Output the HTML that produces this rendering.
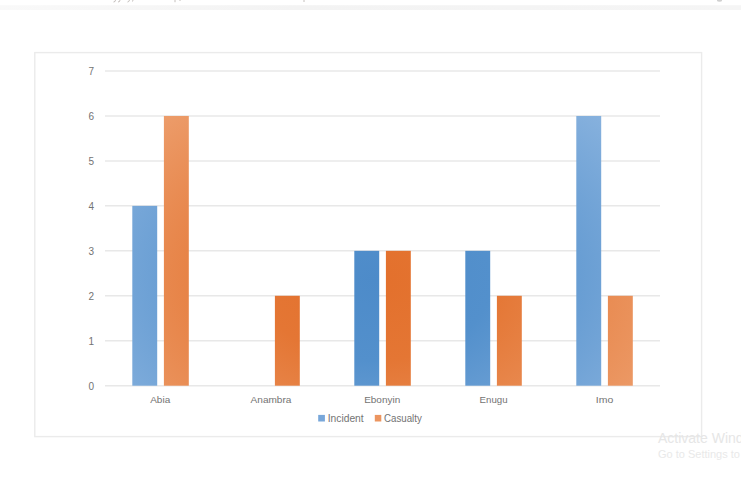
<!DOCTYPE html>
<html><head><meta charset="utf-8">
<style>
html,body{margin:0;padding:0;background:#fff;width:741px;height:486px;overflow:hidden;}
svg{position:absolute;left:0;top:0;}
text{font-family:"Liberation Sans",sans-serif;}
</style></head>
<body>
<svg width="741" height="486" viewBox="0 0 741 486">
<defs>
<radialGradient id="gb" gradientUnits="userSpaceOnUse" cx="0" cy="0" r="230" gradientTransform="translate(375 280) scale(1.45 1)">
<stop offset="0" stop-color="#4d8bc9"/>
<stop offset="0.35" stop-color="#5390cc"/>
<stop offset="1" stop-color="#88b2de"/>
</radialGradient>
<radialGradient id="go" gradientUnits="userSpaceOnUse" cx="0" cy="0" r="230" gradientTransform="translate(375 280) scale(1.45 1)">
<stop offset="0" stop-color="#e3702c"/>
<stop offset="0.35" stop-color="#e47634"/>
<stop offset="1" stop-color="#ed9f6e"/>
</radialGradient>
</defs>
<!-- top band -->
<linearGradient id="band" x1="0" x2="741" y1="0" y2="0" gradientUnits="userSpaceOnUse"><stop offset="0" stop-color="#f9f9f9"/><stop offset="0.4" stop-color="#f3f3f3"/><stop offset="1" stop-color="#f5f5f5"/></linearGradient>
<rect x="0" y="5.2" width="741" height="4.8" fill="url(#band)"/>
<g fill="none" stroke="#bdb8b4" stroke-width="0.9">
<path d="M115.5 0 Q115.5 2 113.5 2"/>
<path d="M120 0 Q120 2 118 2"/>
<path d="M129.5 0 Q129 2 127.5 2"/>
<path d="M133 0 L132.5 1.5"/>
<path d="M175 0 L175 2.2"/>
<path d="M180 0 L180 1"/>
<path d="M304 0 L304 2"/>
</g>
<ellipse cx="719.5" cy="0.5" rx="2.5" ry="1.2" fill="#d0d0d0"/>
<!-- chart border -->
<rect x="34.8" y="52.6" width="666.8" height="384" fill="none" stroke="#ebebeb" stroke-width="1.4"/>
<!-- gridlines -->
<g stroke="#e8e8e8" stroke-width="1.5">
<line x1="105" x2="660" y1="71.0" y2="71.0"/>
<line x1="105" x2="660" y1="115.96" y2="115.96"/>
<line x1="105" x2="660" y1="160.91" y2="160.91"/>
<line x1="105" x2="660" y1="205.87" y2="205.87"/>
<line x1="105" x2="660" y1="250.83" y2="250.83"/>
<line x1="105" x2="660" y1="295.79" y2="295.79"/>
<line x1="105" x2="660" y1="340.74" y2="340.74"/>
<line x1="105" x2="660" y1="385.7" y2="385.7"/>
</g>
<!-- y labels -->
<g fill="#737373" font-size="10" text-anchor="end">
<text x="94" y="74.9">7</text>
<text x="94" y="119.86">6</text>
<text x="94" y="164.81">5</text>
<text x="94" y="209.77">4</text>
<text x="94" y="254.73">3</text>
<text x="94" y="299.69">2</text>
<text x="94" y="344.64">1</text>
<text x="94" y="389.6">0</text>
</g>
<!-- bars -->
<g fill="url(#gb)">
<rect x="132.3" y="205.87" width="24.9" height="179.83"/>
<rect x="354.3" y="250.83" width="24.9" height="134.87"/>
<rect x="465.3" y="250.83" width="24.9" height="134.87"/>
<rect x="576.3" y="115.96" width="24.9" height="269.74"/>
</g>
<g fill="url(#go)">
<rect x="163.9" y="115.96" width="24.9" height="269.74"/>
<rect x="274.9" y="295.79" width="24.9" height="89.91"/>
<rect x="385.9" y="250.83" width="24.9" height="134.87"/>
<rect x="496.9" y="295.79" width="24.9" height="89.91"/>
<rect x="607.9" y="295.79" width="24.9" height="89.91"/>
</g>
<!-- category labels -->
<g fill="#737373" font-size="9.8" text-anchor="middle" lengthAdjust="spacingAndGlyphs">
<text x="160.2" y="403.3" textLength="20" lengthAdjust="spacingAndGlyphs">Abia</text>
<text x="271" y="403.3" textLength="40.8" lengthAdjust="spacingAndGlyphs">Anambra</text>
<text x="382.2" y="403.3" textLength="36" lengthAdjust="spacingAndGlyphs">Ebonyin</text>
<text x="493.6" y="403.3" textLength="28" lengthAdjust="spacingAndGlyphs">Enugu</text>
<text x="604.5" y="403.3" textLength="17.5" lengthAdjust="spacingAndGlyphs">Imo</text>
</g>
<!-- legend -->
<rect x="318.2" y="414.9" width="6.7" height="6.6" fill="#78a7da"/>
<text x="327.7" y="421.5" fill="#737373" font-size="10" textLength="36" lengthAdjust="spacingAndGlyphs">Incident</text>
<rect x="374.8" y="414.9" width="6.5" height="6.6" fill="#ec9560"/>
<text x="384" y="421.5" fill="#737373" font-size="10" textLength="37.8" lengthAdjust="spacingAndGlyphs">Casualty</text>
<!-- watermark -->
<text x="658" y="443" fill="#e6e6e6" font-size="14">Activate Windows</text>
<text x="658" y="458" fill="#e9e9e9" font-size="11">Go to Settings to activate Windows.</text>
</svg>
</body></html>
